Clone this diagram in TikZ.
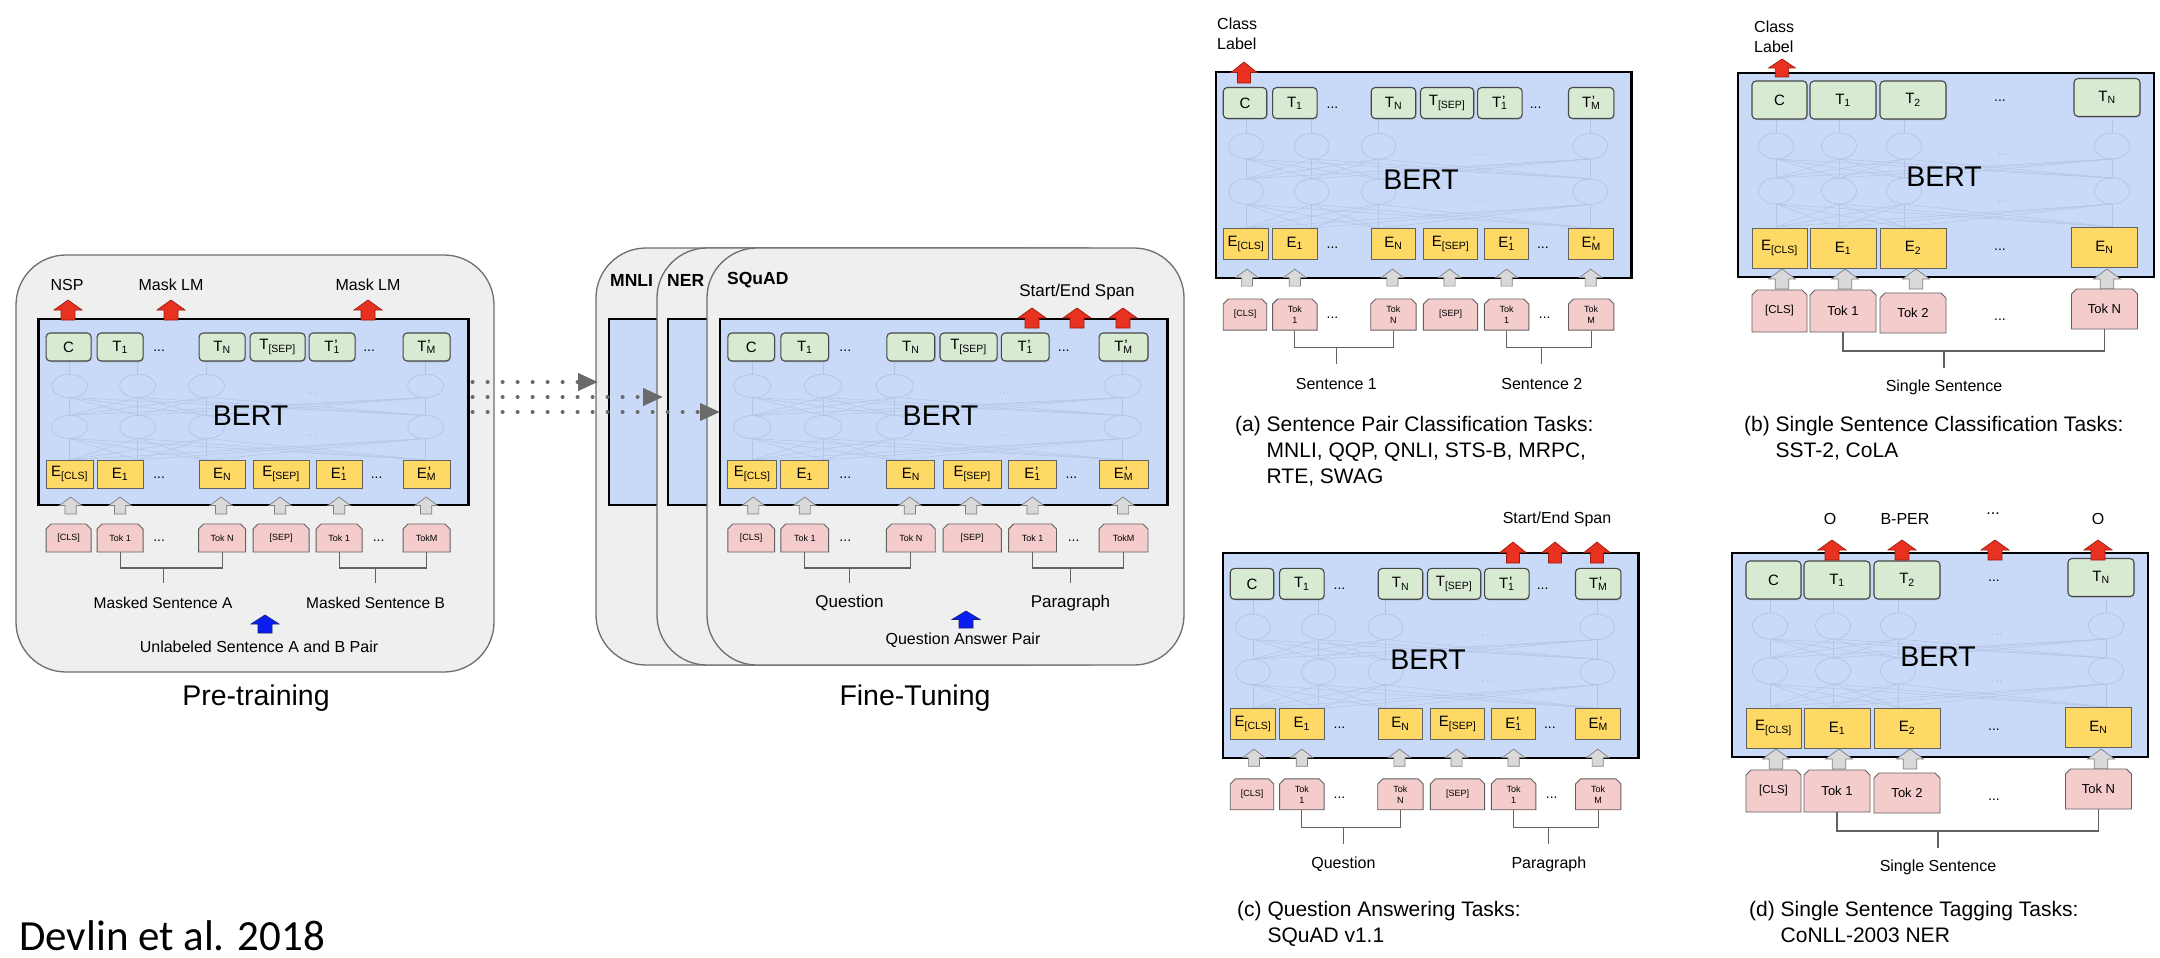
\documentclass[tikz,border=0pt]{standalone}
\usepackage{fontspec}
\setmainfont{Liberation Sans}
\newfontfamily\calfont{Carlito}
\usetikzlibrary{shapes.misc,shadows,arrows.meta,calc}
\newcommand\fsz[1]{\fontsize{#1}{#1}\selectfont}
\newcommand\fszl[2]{\fontsize{#1}{#2}\selectfont}
\newcommand\prm{\rlap{\kern0.8pt\raisebox{0.5pt}{'}}}

\definecolor{panelbg}{HTML}{EFEFEF}
\definecolor{panelline}{HTML}{6E6E6E}
\definecolor{bertblue}{HTML}{C9DAF8}
\definecolor{tgreen}{HTML}{D9EAD3}
\definecolor{eyellow}{HTML}{FFD966}
\definecolor{tokpink}{HTML}{F4CCCC}
\definecolor{netline}{HTML}{B3C4E4}
\definecolor{arrred}{HTML}{E8321F}
\definecolor{arrredline}{HTML}{9C1C10}
\definecolor{arrgray}{HTML}{D9D9D9}
\definecolor{arrgrayline}{HTML}{7F7F7F}
\definecolor{arrblue}{HTML}{0A1EF0}
\definecolor{arrblueline}{HTML}{1A237E}
\definecolor{dotgray}{HTML}{6A6A6A}

\tikzset{
 panel/.style={draw=panelline, line width=1.3pt, fill=panelbg, rounded corners=50pt},
 bertbox/.style={draw=black, line width=2.8pt, fill=bertblue, inner sep=0pt, outer sep=0pt},
 tbox/.style={draw=black!72, line width=1.1pt, fill=tgreen, rounded corners=4pt, inner sep=0pt,
   drop shadow={opacity=0.28, shadow xshift=0.9pt, shadow yshift=-1.3pt}, font=\fsz{15}},
 ebox/.style={draw=black!62, line width=0.9pt, fill=eyellow, inner sep=0pt, font=\fsz{15}},
 tokbox/.style={chamfered rectangle, chamfered rectangle corners={north west,north east},
   chamfered rectangle xsep=2.5pt, chamfered rectangle ysep=2.5pt, draw=black!62, line width=0.9pt,
   fill=tokpink, inner sep=0pt, align=center, font=\fszl{9}{11}},
 dotsnode/.style={font=\fsz{14}, inner sep=0pt},
 berttxt/.style={font=\fsz{28.5}, inner sep=0pt},
 netl/.style={draw=netline, line width=0.5pt},
 nete/.style={draw=netline, line width=0.7pt},
 brk/.style={draw=black!62, line width=1.1pt},
 lbl/.style={font=\fsz{16}, inner sep=0pt},
 ttl/.style={font=\fsz{28.5}, inner sep=0pt},
 task/.style={font=\bfseries\fsz{17.5}, anchor=west, inner sep=0pt},
 captxt/.style={font=\fszl{21}{26}, align=left, anchor=west, inner sep=0pt},
 redarr/.style={fill=arrred, draw=arrredline, line width=0.7pt},
 grayarr/.style={fill=arrgray, draw=arrgrayline, line width=0.7pt},
 bluearr/.style={fill=arrblue, draw=arrblueline, line width=0.7pt},
 blockup/.pic={\path[pic actions] (0,0) -- (14,10) -- (7,10) -- (7,20) -- (-7,20) -- (-7,10) -- (-14,10) -- cycle;},
 dotarr/.style={draw=dotgray, line width=4pt, line cap=round, dash pattern=on 0pt off 15pt,
   -{Triangle[length=20pt,width=17pt]}},
}

% 8-column BERT block: prefix, x0, y0, xscale, yscale, tok A, tok N, tok B1, tok M
\newcommand\bertEight[9]{%
\begin{scope}[shift={(#2,#3)}, xscale=#4, yscale=#5, name prefix=#1-]
\node[bertbox, anchor=north west, minimum width={430*#4}, minimum height={186*#5}] (box) at (0,0) {};
\foreach \a in {31,99,168,387}{%
  \draw[nete] (\a,67) ellipse [x radius=18, y radius=11.5];
  \draw[nete] (\a,108) ellipse [x radius=18, y radius=11.5];
  \draw[netl] (\a,55.5) -- (\a,42);
  \foreach \b in {31,99,168,387}{%
    \draw[netl] (\a,141) -- (\b,119.5);
    \draw[netl] (\a,96.5) -- (\b,78.5);
  }
}
\node[dotsnode, text=netline] (nd1) at (273,75) {...};
\node[dotsnode, text=netline] (nd2) at (273,117) {...};
\node[berttxt] (bert) at (212,97) {BERT};
% output row
\node[tbox, minimum width={45*#4}, minimum height={28*#5}] (C) at (30,28) {C};
\node[tbox, minimum width={46*#4}, minimum height={28*#5}] (T1) at (81.5,28) {T\textsubscript{1}};
\node[dotsnode] (td1) at (120.5,32) {...};
\node[tbox, minimum width={46*#4}, minimum height={28*#5}] (TN) at (183.5,28) {T\textsubscript{N}};
\node[tbox, minimum width={55*#4}, minimum height={28*#5}] (TS) at (239,28) {T\textsubscript{[SEP]}};
\node[tbox, minimum width={46*#4}, minimum height={28*#5}] (T1b) at (293.5,28) {T\prm\textsubscript{1}};
\node[dotsnode] (td2) at (330.5,32) {...};
\node[tbox, minimum width={47*#4}, minimum height={28*#5}] (TM) at (388,28) {T\prm\textsubscript{M}};
% embedding row
\node[ebox, minimum width={47*#4}, minimum height={28*#5}] (EC) at (31,155) {E\textsubscript{[CLS]}};
\node[ebox, minimum width={46*#4}, minimum height={28*#5}] (E1) at (81.5,155) {E\textsubscript{1}};
\node[dotsnode] (ed1) at (120.5,159) {...};
\node[ebox, minimum width={46*#4}, minimum height={28*#5}] (EN) at (183.5,155) {E\textsubscript{N}};
\node[ebox, minimum width={56*#4}, minimum height={28*#5}] (ES) at (242.5,155) {E\textsubscript{[SEP]}};
\node[ebox, minimum width={46*#4}, minimum height={28*#5}] (E1b) at (300.5,155) {E\prm\textsubscript{1}};
\node[dotsnode] (ed2) at (338,159) {...};
\node[ebox, minimum width={47*#4}, minimum height={28*#5}] (EM) at (388,155) {E\prm\textsubscript{M}};
% input arrows
\foreach \a in {32,81.5,182.5,241.5,300.5,387.5}{%
  \pic[grayarr, xscale=0.8, yscale=0.85] at (\a,178) {blockup};
}
% tokens
\node[tokbox, minimum width={45*#4}, minimum height={28*#5}] (kC) at (30,219) {[CLS]};
\node[tokbox, minimum width={46*#4}, minimum height={28*#5}] (kA) at (81.5,219) {#6};
\node[dotsnode] (kd1) at (120.5,222) {...};
\node[tokbox, minimum width={47*#4}, minimum height={28*#5}] (kN) at (183.5,219) {#7};
\node[tokbox, minimum width={56*#4}, minimum height={28*#5}] (kS) at (242.5,219) {[SEP]};
\node[tokbox, minimum width={46*#4}, minimum height={28*#5}] (kB) at (300.5,219) {#8};
\node[dotsnode] (kd2) at (340,222) {...};
\node[tokbox, minimum width={47*#4}, minimum height={28*#5}] (kM) at (388,219) {#9};
% brackets
\coordinate (hA) at (124.5,249); \coordinate (sA) at (124.5,264);
\coordinate (hB) at (337,249); \coordinate (sB) at (337,264);
\draw[brk] (kA.south) |- (hA) -| (kN.south);
\draw[brk] (hA) -- (sA);
\draw[brk] (kB.south) |- (hB) -| (kM.south);
\draw[brk] (hB) -- (sB);
\end{scope}}

% 5-column BERT block: prefix, x0, y0
\newcommand\bertFive[3]{%
\begin{scope}[shift={(#2,#3)}, name prefix=#1-]
\node[bertbox, anchor=north west, minimum width=416, minimum height=204] (box) at (0,0) {};
\foreach \a in {38,101,166,374}{%
  \draw[nete] (\a,73) ellipse [x radius=17.5, y radius=13];
  \draw[nete] (\a,118) ellipse [x radius=17.5, y radius=13];
  \draw[netl] (\a,60) -- (\a,46);
  \foreach \b in {38,101,166,374}{%
    \draw[netl] (\a,154) -- (\b,131);
    \draw[netl] (\a,105) -- (\b,86);
  }
}
\node[dotsnode, text=netline] (nd1) at (265,82) {...};
\node[dotsnode, text=netline] (nd2) at (265,129) {...};
\node[berttxt] (bert) at (206,104) {BERT};
\node[tbox, minimum width=55, minimum height=38] (C) at (41.5,27) {C};
\node[tbox, minimum width=66, minimum height=38] (T1) at (105,27) {T\textsubscript{1}};
\node[tbox, minimum width=66, minimum height=38] (T2) at (175,27) {T\textsubscript{2}};
\node[dotsnode] (td) at (262,28) {...};
\node[tbox, minimum width=66, minimum height=38] (TN) at (369,24.5) {T\textsubscript{N}};
\node[ebox, minimum width=55, minimum height=40] (EC) at (41.5,175) {E\textsubscript{[CLS]}};
\node[ebox, minimum width=66, minimum height=40] (E1) at (105,175) {E\textsubscript{1}};
\node[ebox, minimum width=66, minimum height=40] (E2) at (175,175) {E\textsubscript{2}};
\node[dotsnode] (ed) at (262,177) {...};
\node[ebox, minimum width=66, minimum height=40] (EN) at (366.5,174.5) {E\textsubscript{N}};
\foreach \a in {44,107,178,369}{%
  \pic[grayarr, xscale=0.96, yscale=1] at (\a,196) {blockup};
}
\node[tokbox, minimum width=55, minimum height=42, font=\fsz{11.5}] (kC) at (41.5,238) {[CLS]};
\node[tokbox, minimum width=66, minimum height=42, font=\fsz{13}] (kA) at (105,238) {Tok 1};
\node[tokbox, minimum width=66, minimum height=40, font=\fsz{13}] (k2) at (175,240) {Tok 2};
\node[dotsnode] (kd) at (262,247) {...};
\node[tokbox, minimum width=66, minimum height=40, font=\fsz{13}] (kN) at (366.5,236) {Tok N};
\coordinate (h) at (206,278); \coordinate (s) at (206,295);
\draw[brk] (kA.south) |- (h) -| (kN.south);
\draw[brk] (h) -- (s);
\end{scope}}

\begin{document}
\begin{tikzpicture}[x=1pt,y=-1pt]
\fill[white] (0,0) rectangle (2160,958);
\useasboundingbox (0,0) rectangle (2160,958);

% ---------------- Pre-training ----------------
\draw[panel] (16,255) rectangle (494,672);
\bertEight{L}{38.6}{319}{1}{1}{Tok 1}{Tok N}{Tok 1}{TokM}
\pic[redarr] at (68,300) {blockup};
\pic[redarr] at (171,300) {blockup};
\pic[redarr] at (368,300) {blockup};
\node[lbl] (nsp) at (67,285) {NSP};
\node[lbl] (mlm1) at (171,285) {Mask LM};
\node[lbl] (mlm2) at (368,285) {Mask LM};
\node[lbl, font=\fsz{15.5}] (msa) at ($(L-sA)+(0,20)$) {Masked Sentence A};
\node[lbl, font=\fsz{15.5}] (msb) at ($(L-sB)+(0,20)$) {Masked Sentence B};
\pic[bluearr, yscale=0.9] at (265,615) {blockup};
\node[lbl] (unl) at (259,647) {Unlabeled Sentence A and B Pair};
\node[ttl] (pretr) at (256,698) {Pre-training};

% ---------------- Fine-tuning ----------------
\draw[panel] (596,248) rectangle (1073,665);
\node[bertbox, anchor=north west, minimum width=447, minimum height=186] (M-box) at (609,319) {};
\node[task] (mnli) at (610,280) {MNLI};
\draw[panel] (657,248) rectangle (1134,665);
\node[bertbox, anchor=north west, minimum width=447, minimum height=186] (N-box) at (668,319) {};
\node[task] (ner) at (667,280) {NER};
\draw[panel] (707,248) rectangle (1184,665);
\bertEight{S}{720}{319}{1.04}{1}{Tok 1}{Tok N}{Tok 1}{TokM}
\node[task] (squad) at (727,280) {SQuAD};
\pic[redarr] at (1032,308) {blockup};
\pic[redarr] at (1077,308) {blockup};
\pic[redarr] at (1123,308) {blockup};
\node[lbl, font=\fsz{17}] (span1) at (1077,292) {Start/End Span};
\node[lbl, font=\fsz{17}] (ques1) at ($(S-sA)+(0,20)$) {Question};
\node[lbl, font=\fsz{17}] (para1) at ($(S-sB)+(0,20)$) {Paragraph};
\pic[bluearr, yscale=0.85] at (966,611) {blockup};
\node[lbl] (qap) at (963,640) {Question Answer Pair};
\node[ttl] (ft) at (915,698) {Fine-Tuning};

% dotted transfer arrows
\coordinate (d1) at (L-box.east |- 0,382);
\coordinate (d2) at (L-box.east |- 0,397);
\coordinate (d3) at (L-box.east |- 0,412);
\draw[dotarr, shorten <=4pt, shorten >=11pt] (d1) -- (M-box.west |- d1);
\draw[dotarr, shorten <=4pt, shorten >=5pt] (d2) -- (N-box.west |- d2);
\draw[dotarr, shorten <=4pt] (d3) -- (S-box.west |- d3);

% ---------------- (a) ----------------
\bertEight{A}{1216}{72}{0.967}{1.1075}{Tok\\1}{Tok\\N}{Tok\\1}{Tok\\M}
\pic[redarr, yscale=1.05, xscale=0.93] at (1244,62) {blockup};
\node[lbl, anchor=west, align=left, font=\fszl{16}{20}] (clsa) at (1217,34) {Class\\Label};
\node[lbl] (s1) at ($(A-sA)+(0,20)$) {Sentence 1};
\node[lbl] (s2) at ($(A-sB)+(0,20)$) {Sentence 2};
\node[captxt] (capa) at (1235,452) {(a) Sentence Pair Classification Tasks:\\\phantom{(a) }MNLI, QQP, QNLI, STS-B, MRPC,\\\phantom{(a) }RTE, SWAG};

% ---------------- (b) ----------------
\bertFive{B}{1738}{73}
\pic[redarr, yscale=0.9, xscale=0.96] at (1782,59) {blockup};
\node[lbl, anchor=west, align=left, font=\fszl{16}{20}] (clsb) at (1754,37) {Class\\Label};
\node[lbl] (ssb) at ($(B-s)+(0,19)$) {Single Sentence};
\node[captxt] (capb) at (1744,439) {(b) Single Sentence Classification Tasks:\\\phantom{(b) }SST-2, CoLA};

% ---------------- (c) ----------------
\bertEight{Q}{1223}{553}{0.967}{1.102}{Tok\\1}{Tok\\N}{Tok\\1}{Tok\\M}
\pic[redarr, yscale=1.05, xscale=0.93] at (1513,542) {blockup};
\pic[redarr, yscale=1.05, xscale=0.93] at (1555,542) {blockup};
\pic[redarr, yscale=1.05, xscale=0.93] at (1597,542) {blockup};
\node[lbl] (span2) at (1557,519) {Start/End Span};
\node[lbl] (ques2) at ($(Q-sA)+(0,20)$) {Question};
\node[lbl] (para2) at ($(Q-sB)+(0,20)$) {Paragraph};
\node[captxt] (capc) at (1237,924) {(c) Question Answering Tasks:\\\phantom{(c) }SQuAD v1.1};

% ---------------- (d) ----------------
\bertFive{D}{1732}{553}
\pic[redarr] at (1832,540) {blockup};
\pic[redarr] at (1902,540) {blockup};
\pic[redarr] at (1995,540) {blockup};
\pic[redarr] at (2098,540) {blockup};
\node[lbl] (o1) at (1830,519) {O};
\node[lbl] (bper) at (1905,519) {B-PER};
\node[lbl] (odots) at (1993,514) {...};
\node[lbl] (o2) at (2098,519) {O};
\node[lbl] (ssd) at ($(D-s)+(0,19)$) {Single Sentence};
\node[captxt] (capd) at (1749,924) {(d) Single Sentence Tagging Tasks:\\\phantom{(d) }CoNLL-2003 NER};

% citation
\node[font=\calfont\fsz{43}, anchor=base west, inner sep=0pt] (cite) at (19,950) {Devlin et al. 2018};
\end{tikzpicture}
\end{document}
